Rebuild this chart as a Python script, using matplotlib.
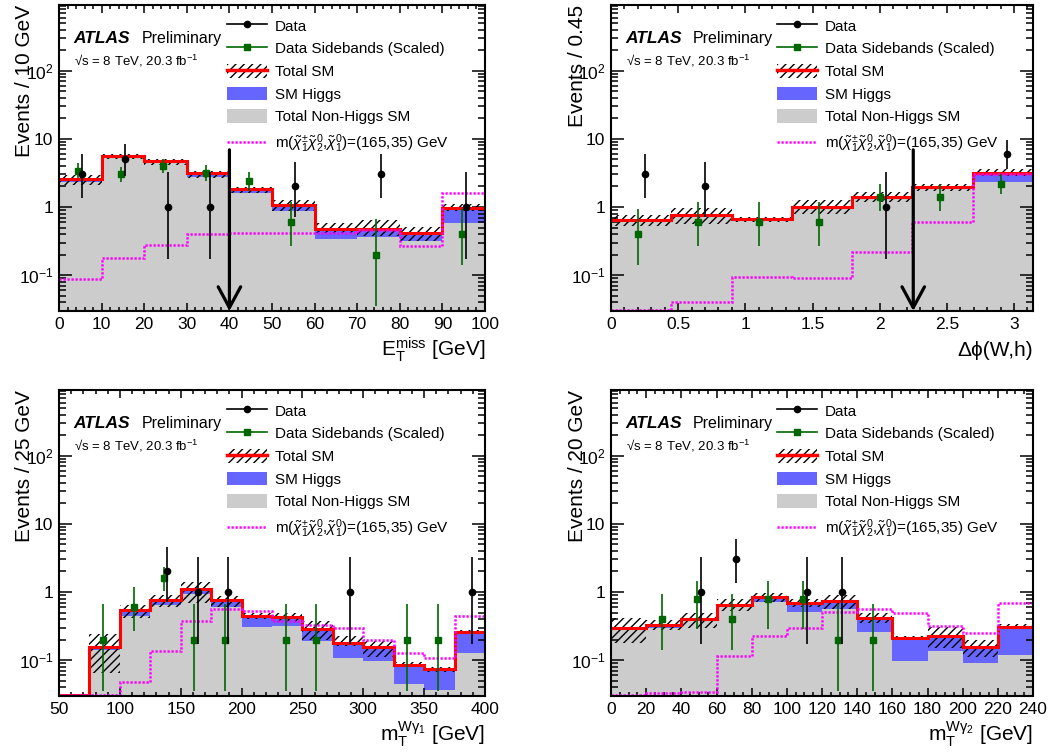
import matplotlib
matplotlib.use('Agg')
import matplotlib.pyplot as plt
import numpy as np
from matplotlib.lines import Line2D
from matplotlib.patches import Patch
from matplotlib.ticker import (FixedLocator, FixedFormatter, LogLocator,
                               MultipleLocator, NullFormatter, FuncFormatter)

plt.rcParams['font.family'] = ['Liberation Sans', 'DejaVu Sans']
plt.rcParams['mathtext.fontset'] = 'custom'
plt.rcParams['mathtext.rm'] = 'Liberation Sans'
plt.rcParams['mathtext.it'] = 'Liberation Sans:italic'
plt.rcParams['mathtext.bf'] = 'Liberation Sans:bold'
plt.rcParams['hatch.linewidth'] = 1.0

GREY = '#cccccc'
BLUE = '#6666ff'
GREEN = '#006600'
MAGENTA = '#ff00ff'

# ---- panel 1: E_T^miss ----
met_edges = [0, 10, 20, 30, 40, 50, 60, 70, 80, 90, 100]
met_nonhiggs = [2.3, 5.2, 4.4, 2.8, 1.6, 0.88, 0.34, 0.36, 0.32, 0.59]
met_total = [2.55, 5.6, 4.7, 3.1, 1.82, 1.08, 0.48, 0.48, 0.42, 0.96]
met_unc_lo = [2.1, 5.0, 4.1, 2.7, 1.62, 0.88, 0.41, 0.37, 0.32, 0.88]
met_unc_hi = [2.95, 6.0, 5.0, 3.4, 1.99, 1.27, 0.58, 0.64, 0.51, 1.09]
met_signal = [0.087, 0.18, 0.28, 0.40, 0.42, 0.41, 0.41, 0.46, 0.27, 1.59]
met_data_x = [5.5, 15.5, 25.5, 35.5, 55.5, 75.5, 95.5]
met_data = [3, 5, 1, 1, 2, 3, 1]
met_data_lo = [1.37, 2.84, 0.17, 0.17, 0.71, 1.37, 0.17]
met_data_hi = [5.92, 8.38, 3.30, 3.30, 4.64, 5.92, 3.30]
met_sb_x = [4.5, 14.5, 24.5, 34.5, 44.5, 54.5, 74.5, 94.5]
met_sb = [3.4, 3.05, 4.0, 3.2, 2.4, 0.6, 0.2, 0.4]
met_sb_lo = [2.7, 2.3, 3.1, 2.4, 1.7, 0.27, 0.035, 0.14]
met_sb_hi = [4.4, 3.9, 5.0, 4.2, 3.3, 1.18, 0.66, 0.93]

# ---- panel 2: delta phi(W,h) ----
dphi_edges = [0, 0.449, 0.898, 1.346, 1.795, 2.244, 2.693, 3.1416]
dphi_nonhiggs = [0.6, 0.72, 0.63, 0.95, 1.31, 1.86, 2.35]
dphi_total = [0.645, 0.76, 0.67, 1.0, 1.39, 1.99, 3.2]
dphi_unc_lo = [0.53, 0.56, 0.6, 0.8, 1.17, 1.74, 2.88]
dphi_unc_hi = [0.76, 0.96, 0.72, 1.27, 1.64, 2.2, 3.57]
dphi_signal = [0.031, 0.04, 0.095, 0.09, 0.22, 0.6, 3.05]
dphi_data_x = [0.25, 0.70, 2.05, 2.95]
dphi_data = [3, 2, 1, 6]
dphi_data_lo = [1.37, 0.71, 0.17, 3.62]
dphi_data_hi = [5.92, 4.64, 3.30, 9.58]
dphi_sb_x = [0.2, 0.65, 1.1, 1.55, 2.0, 2.45, 2.9]
dphi_sb = [0.4, 0.6, 0.6, 0.6, 1.4, 1.4, 2.2]
dphi_sb_lo = [0.14, 0.27, 0.27, 0.27, 0.88, 0.88, 1.55]
dphi_sb_hi = [0.93, 1.18, 1.18, 1.18, 2.15, 2.15, 3.05]

# ---- panel 3: mT(W gamma1) ----
mt1_edges = [50, 75, 100, 125, 150, 175, 200, 225, 250, 275, 300, 325, 350, 375, 400]
mt1_nonhiggs = [0, 0.14, 0.45, 0.65, 0.95, 0.61, 0.31, 0.32, 0.19, 0.106, 0.098, 0.045, 0.037, 0.126]
mt1_total = [0, 0.158, 0.54, 0.76, 1.1, 0.76, 0.45, 0.425, 0.29, 0.18, 0.155, 0.085, 0.074, 0.26]
mt1_unc_lo = [0, 0.065, 0.42, 0.61, 0.7, 0.6, 0.4, 0.36, 0.2, 0.16, 0.11, 0.08, 0.068, 0.24]
mt1_unc_hi = [0, 0.24, 0.64, 0.9, 1.39, 0.87, 0.5, 0.49, 0.38, 0.23, 0.19, 0.095, 0.08, 0.28]
mt1_signal = [0, 0, 0.048, 0.138, 0.38, 0.56, 0.53, 0.37, 0.33, 0.30, 0.20, 0.126, 0.109, 0.44]
mt1_data_x = [139, 164, 189, 289, 389]
mt1_data = [2, 1, 1, 1, 1]
mt1_data_lo = [0.71, 0.17, 0.17, 0.17, 0.17]
mt1_data_hi = [4.64, 3.30, 3.30, 3.30, 3.30]
mt1_sb_x = [86.3, 111.3, 136.3, 161.3, 186.3, 236.3, 261.3, 336.3, 361.3]
mt1_sb = [0.2, 0.6, 1.6, 0.2, 0.2, 0.2, 0.2, 0.2, 0.2]
mt1_sb_lo = [0.035, 0.27, 1.05, 0.035, 0.035, 0.035, 0.035, 0.035, 0.035]
mt1_sb_hi = [0.66, 1.18, 2.35, 0.66, 0.66, 0.66, 0.66, 0.66, 0.66]

# ---- panel 4: mT(W gamma2) ----
mt2_edges = [0, 20, 40, 60, 80, 100, 120, 140, 160, 180, 200, 220, 240]
mt2_nonhiggs = [0.28, 0.30, 0.37, 0.60, 0.72, 0.51, 0.56, 0.26, 0.098, 0.138, 0.092, 0.119]
mt2_total = [0.30, 0.33, 0.40, 0.64, 0.84, 0.68, 0.75, 0.41, 0.214, 0.226, 0.155, 0.31]
mt2_unc_lo = [0.177, 0.28, 0.30, 0.53, 0.72, 0.61, 0.56, 0.35, 0.2, 0.15, 0.11, 0.29]
mt2_unc_hi = [0.42, 0.39, 0.49, 0.78, 0.98, 0.78, 0.9, 0.49, 0.226, 0.31, 0.2, 0.34]
mt2_signal = [0.031, 0.033, 0.034, 0.115, 0.226, 0.30, 0.51, 0.56, 0.50, 0.32, 0.25, 0.70]
mt2_data_x = [51.2, 71.2, 111.2, 131.2]
mt2_data = [1, 3, 1, 1]
mt2_data_lo = [0.17, 1.37, 0.17, 0.17]
mt2_data_hi = [3.30, 5.92, 3.30, 3.30]
mt2_sb_x = [29, 49, 69, 89, 109, 129, 149]
mt2_sb = [0.4, 0.8, 0.4, 0.8, 0.8, 0.2, 0.2]
mt2_sb_lo = [0.14, 0.29, 0.14, 0.29, 0.29, 0.035, 0.035]
mt2_sb_hi = [0.93, 1.43, 0.93, 1.43, 1.43, 0.66, 0.66]

YMIN, YMAX = 0.0298, 920
FLOOR = 1e-4
LINE_FLOOR = YMIN * 1.05   # empty bins are drawn on the frame, like ROOT does

signal_label = (r'm($\tilde{\chi}^{\pm}_{1}\tilde{\chi}^{0}_{2}$,'
                r'$\tilde{\chi}^{0}_{1}$)=(165,35) GeV')
HATCH = '////'
DOTS = (0, (0.9, 0.7))


def draw_panel(ax, edges, nonhiggs, total, unc_lo, unc_hi, signal,
               dx, dy, dlo, dhi, sx, sy, slo, shi,
               xlim, xmajor, xminor, xlabel, ylabel, arrow_x=None):
    nh = np.clip(nonhiggs, FLOOR, None)
    tot = np.clip(total, FLOOR, None)

    # stacked backgrounds
    ax.stairs(nh, edges, baseline=FLOOR, fill=True, color=GREY, lw=0, zorder=1)
    ax.stairs(tot, edges, baseline=nh, fill=True, color=BLUE, lw=0, zorder=1.1)
    # uncertainty band
    ax.stairs(np.clip(unc_hi, FLOOR, None), edges,
              baseline=np.clip(unc_lo, FLOOR, None), fill=True,
              facecolor='none', edgecolor='black', hatch=HATCH, lw=0, zorder=1.2)
    ax.stairs(np.clip(total, LINE_FLOOR, None), edges, baseline=None,
              color='red', lw=2.2, zorder=2)
    ax.stairs(np.clip(signal, LINE_FLOOR, None), edges, baseline=None,
              color=MAGENTA, lw=1.8, ls=DOTS, zorder=2.1)

    dy = np.array(dy, dtype=float)
    sy = np.array(sy, dtype=float)
    ax.errorbar(sx, sy, yerr=[sy - np.array(slo), np.array(shi) - sy], fmt='s',
                color=GREEN, ms=4.3, elinewidth=1.2, capsize=0, zorder=4)
    ax.errorbar(dx, dy, yerr=[dy - np.array(dlo), np.array(dhi) - dy], fmt='o',
                color='black', ms=4.5, elinewidth=1.2, capsize=0, zorder=5)

    if arrow_x is not None:
        ax.annotate('', xy=(arrow_x, YMIN), xytext=(arrow_x, 6.9),
                    arrowprops=dict(arrowstyle='->,head_length=0.5,head_width=0.27',
                                    lw=2.3, color='black', mutation_scale=30,
                                    shrinkA=0, shrinkB=0), zorder=6)

    ax.set_yscale('log')
    ax.set_xlim(*xlim)
    ax.set_ylim(YMIN, YMAX)
    ax.yaxis.set_major_locator(FixedLocator([0.1, 1, 10, 100]))
    ax.yaxis.set_major_formatter(FixedFormatter(['10$^{-1}$', '1', '10', '10$^{2}$']))
    ax.yaxis.set_minor_locator(LogLocator(subs=np.arange(2, 10), numticks=20))
    ax.yaxis.set_minor_formatter(NullFormatter())
    ax.xaxis.set_major_locator(MultipleLocator(xmajor))
    ax.xaxis.set_minor_locator(MultipleLocator(xminor))
    ax.xaxis.set_major_formatter(FuncFormatter(lambda v, p: f'{v:g}'))

    ax.tick_params(which='both', direction='in', top=True, right=True,
                   width=1.1, labelsize=12.5)
    ax.tick_params(axis='x', which='major', length=5.8, pad=4)
    ax.tick_params(axis='x', which='minor', length=2.9)
    ax.tick_params(axis='y', which='major', length=9.4, pad=4)
    ax.tick_params(axis='y', which='minor', length=4.7)
    for sp in ax.spines.values():
        sp.set_linewidth(1.5)

    ax.set_ylabel(ylabel, fontsize=15, loc='top')
    ax.yaxis.set_label_coords(-0.058, 1.0)
    ax.set_xlabel(xlabel, fontsize=15, loc='right', va='baseline')
    ax.xaxis.set_label_coords(1.0, -0.147)

    ax.text(0.033, 0.877, 'ATLAS', transform=ax.transAxes, fontsize=12.5,
            fontweight='bold', fontstyle='italic', va='baseline')
    ax.text(0.194, 0.877, 'Preliminary', transform=ax.transAxes, fontsize=11.5,
            va='baseline')
    ax.text(0.035, 0.802, '√s = 8 TeV, 20.3 fb$^{-1}$',
            transform=ax.transAxes, fontsize=9.5, va='baseline')

    handles = [
        Line2D([], [], color='black', marker='o', ms=4.5, lw=1.2),
        Line2D([], [], color=GREEN, marker='s', ms=4.3, lw=1.2),
        (Patch(facecolor='none', edgecolor='black', hatch=HATCH, lw=0),
         Line2D([], [], color='red', lw=2.5)),
        Patch(facecolor=BLUE, lw=0),
        Patch(facecolor=GREY, lw=0),
        Line2D([], [], color=MAGENTA, lw=1.8, ls=DOTS),
    ]
    labels = ['Data', 'Data Sidebands (Scaled)', 'Total SM', 'SM Higgs',
              'Total Non-Higgs SM', signal_label]
    ax.legend(handles, labels, loc='upper left', bbox_to_anchor=(0.394, 0.956),
              frameon=False, fontsize=11, handlelength=2.62, handleheight=1.0,
              labelspacing=0.5, handletextpad=0.52, borderpad=0,
              borderaxespad=0)


fig = plt.figure(figsize=(10.58, 7.53), dpi=100)
ax1 = fig.add_axes([0.0558, 0.5870, 0.4026, 0.4064])
ax2 = fig.add_axes([0.5775, 0.5870, 0.3989, 0.4064])
ax3 = fig.add_axes([0.0558, 0.0757, 0.4026, 0.4064])
ax4 = fig.add_axes([0.5775, 0.0757, 0.3989, 0.4064])

draw_panel(ax1, met_edges, met_nonhiggs, met_total, met_unc_lo, met_unc_hi, met_signal,
           met_data_x, met_data, met_data_lo, met_data_hi,
           met_sb_x, met_sb, met_sb_lo, met_sb_hi,
           (0, 100), 10, 2, r'E$_{\mathrm{T}}^{\mathrm{miss}}$ [GeV]',
           'Events / 10 GeV', arrow_x=40)
draw_panel(ax2, dphi_edges, dphi_nonhiggs, dphi_total, dphi_unc_lo, dphi_unc_hi, dphi_signal,
           dphi_data_x, dphi_data, dphi_data_lo, dphi_data_hi,
           dphi_sb_x, dphi_sb, dphi_sb_lo, dphi_sb_hi,
           (0, 3.1416), 0.5, 0.1, 'Δϕ(W,h)', 'Events / 0.45', arrow_x=2.25)
draw_panel(ax3, mt1_edges, mt1_nonhiggs, mt1_total, mt1_unc_lo, mt1_unc_hi, mt1_signal,
           mt1_data_x, mt1_data, mt1_data_lo, mt1_data_hi,
           mt1_sb_x, mt1_sb, mt1_sb_lo, mt1_sb_hi,
           (50, 400), 50, 10, r'm$_{\mathrm{T}}^{\mathrm{Wγ_{1}}}$ [GeV]',
           'Events / 25 GeV')
draw_panel(ax4, mt2_edges, mt2_nonhiggs, mt2_total, mt2_unc_lo, mt2_unc_hi, mt2_signal,
           mt2_data_x, mt2_data, mt2_data_lo, mt2_data_hi,
           mt2_sb_x, mt2_sb, mt2_sb_lo, mt2_sb_hi,
           (0, 240), 20, 5, r'm$_{\mathrm{T}}^{\mathrm{Wγ_{2}}}$ [GeV]',
           'Events / 20 GeV')

fig.savefig('out.png', dpi=100)
